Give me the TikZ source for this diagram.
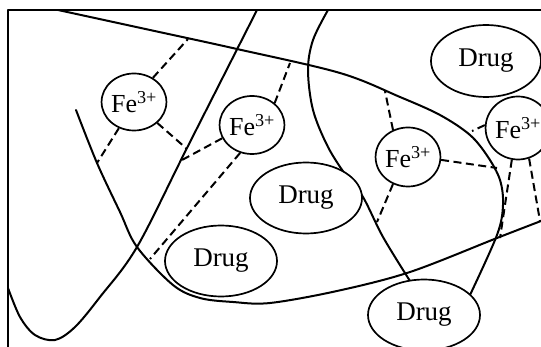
\documentclass[tikz,border=0pt]{standalone}
\usepackage{fontspec}
\setmainfont{Liberation Serif}
\usetikzlibrary{shapes.geometric}
\begin{document}
\begin{tikzpicture}[x=1pt,y=-1pt,
  curve/.style={line width=2pt, line join=round, line cap=round},
  bond/.style={line width=2pt, dash pattern=on 8pt off 4.5pt},
  ion/.style={ellipse, draw, line width=1.7pt, inner sep=0pt, fill=white,
    font=\fontsize{26}{30}\selectfont},
  drug/.style={ellipse, draw, line width=1.7pt, inner sep=0pt, fill=white,
    minimum width=112pt, minimum height=71pt, font=\fontsize{27}{31}\selectfont}]
\useasboundingbox (0,0) rectangle (541,347);
% frame
\draw[curve] (541,10) -- (8,10) -- (8,347);
% curve A
\draw[curve] plot[smooth, tension=0.55] coordinates {(58,10) (150,30) (237,49) (340,73) (400,97) (440,115) (470,135) (488,157) (500,180) (503,205) (497,235) (470,295)};
% curve B
\draw[curve] plot[smooth, tension=0.55] coordinates {(257,10) (187,148) (137,247) (100,297) (75,327) (55,340) (35,335) (20,317) (8,288)};
% curve C
\draw[curve] plot[smooth, tension=0.55] coordinates {(76,110) (97,163) (120,212) (137,247) (173,285) (200,298) (233,302) (270,303) (337,291) (410,272) (497,238) (541,221)};
% curve D
\draw[curve] plot[smooth, tension=0.55] coordinates {(328,10) (313,40) (308,70) (313,110) (328,147) (347,177) (363,197) (383,237) (410,281)};
% drugs
\node[drug, minimum width=110pt, minimum height=72pt] (d1) at (486,61) {Drug};
\node[drug] (d2) at (306,198) {Drug};
\node[drug] (d3) at (221,261) {Drug};
\node[drug] (d4) at (424,315) {Drug};
% iron ions
\node[ion, minimum width=64pt, minimum height=57pt] (fe1) at (134,102) {Fe\textsuperscript{3+}};
\node[ion, minimum width=64pt, minimum height=58pt] (fe2) at (252,125) {Fe\textsuperscript{3+}};
\node[ion, minimum width=63pt, minimum height=59pt] (fe3) at (408,157) {Fe\textsuperscript{3+}};
\node[ion, minimum width=62pt, minimum height=63pt] (fe4) at (518,128) {Fe\textsuperscript{3+}};
% bond ends
\coordinate (a1) at (188,39);
\coordinate (c1) at (97,163);
\coordinate (b1) at (187,149);
\coordinate (a2) at (290,63);
\coordinate (b2) at (182,160);
\coordinate (c2) at (150,259);
\coordinate (a3) at (385,91);
\coordinate (a4) at (497,168);
\coordinate (dd1) at (377,222);
\coordinate (a5) at (472,131);
\coordinate (c3) at (500,238);
\coordinate (c4) at (540,221);
% bonds
\draw[bond] (fe1.52) -- (a1);
\draw[bond] (fe1.240) -- (c1);
\draw[bond] (fe1.318) -- (b1);
\draw[bond] (fe2.44) -- (a2);
\draw[bond] (fe2.204) -- (b2);
\draw[bond] (fe2.247) -- (c2);
\draw[bond] (fe3.119) -- (a3);
\draw[bond] (fe3.355) -- (a4);
\draw[bond] (fe3.241) -- (dd1);
\draw[bond] (fe4.175) -- (a5);
\draw[bond] (fe4.259) -- (c3);
\draw[bond] (fe4.290) -- (c4);
\end{tikzpicture}
\end{document}
